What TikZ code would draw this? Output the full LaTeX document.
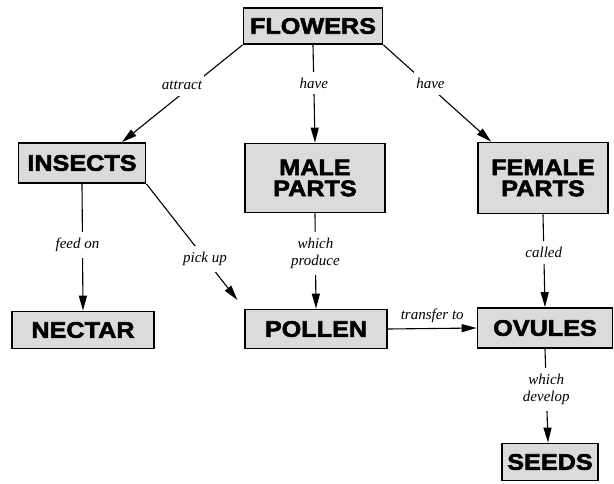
\documentclass[tikz,border=0pt]{standalone}
\usepackage{fontspec}
\usepackage{tikz}
\usetikzlibrary{arrows.meta}
\newfontfamily\boxfont[FakeStretch=1.12,FakeBold=2.5]{Liberation Sans Bold}
\newfontfamily\linkfont{Liberation Serif}

\begin{document}
\begin{tikzpicture}[x=1pt,y=-1pt,
  concept/.style={draw=black,line width=1.8pt,fill=gray!28,inner xsep=4pt,inner ysep=4pt,
    align=center,font=\boxfont\fontsize{22.5}{21}\selectfont},
  link/.style={fill=white,inner xsep=2pt,inner ysep=6pt,align=center,font=\linkfont\itshape\fontsize{15}{17.5}\selectfont},
  arr/.style={line width=1.1pt,-{Triangle[length=15pt,width=8pt]}}]
\useasboundingbox (0,0) rectangle (614,483);

% Concepts
\node[concept,minimum width=139,minimum height=36] (flowers) at (313,26) {FLOWERS};
\node[concept,minimum width=127,minimum height=40] (insects) at (82,163) {INSECTS};
\node[concept,minimum width=140,minimum height=69] (male) at (315,178) {MALE\\PARTS};
\node[concept,minimum width=130,minimum height=71] (female) at (543,178) {FEMALE\\PARTS};
\node[concept,minimum width=142,minimum height=37] (nectar) at (83,330) {NECTAR};
\node[concept,minimum width=142,minimum height=39] (pollen) at (316,329) {POLLEN};
\node[concept,minimum width=135,minimum height=40] (ovules) at (545,328) {OVULES};
\node[concept,minimum width=96,minimum height=37] (seeds) at (550,462) {SEEDS};

% Links from flowers
\draw[arr] (flowers.south west) -- node[link,pos=0.42,xshift=-10pt] {attract} ([xshift=40pt]insects.north);
\draw[arr] (flowers.south) -- node[link,pos=0.39] {have} (male.north);
\draw[arr] (flowers.south east) -- node[link,pos=0.4,xshift=4pt] {have} ([xshift=14pt]female.north west);

% Links from insects
\draw[arr] (insects.south) -- node[link,pos=0.48,xshift=-5pt] {feed on} (nectar.north);
\draw[arr,shorten >=11pt] (insects.south east) -- node[link,pos=0.6] {pick up} (pollen.north west);

% Links to ovules and seeds
\draw[arr] (male.south) -- node[link,pos=0.42] {which\\produce} (pollen.north);
\draw[arr] (female.south) -- node[link,pos=0.41] {called} (ovules.north);
\draw[arr] (pollen.east) -- node[font=\linkfont\itshape\fontsize{15}{16}\selectfont,above=2pt] {transfer to} (ovules.west);
\draw[arr] (ovules.south) -- node[link,pos=0.43] {which\\develop} ([xshift=-2pt]seeds.north);

\end{tikzpicture}
\end{document}
